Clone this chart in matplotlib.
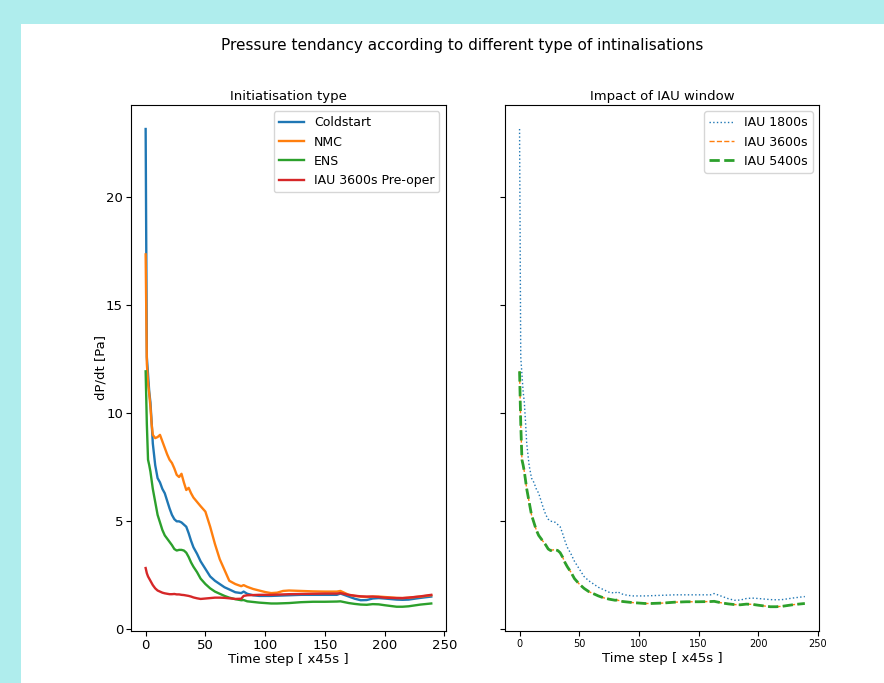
import matplotlib
matplotlib.use("Agg")
import matplotlib.pyplot as plt
from matplotlib.patches import Rectangle

# time steps (x45s) at which the curves were read
time_steps = [0, 1, 2, 3, 4, 5, 6, 8, 10, 12, 14, 16, 18, 20, 22, 24, 26, 28, 30, 32,
              34, 36, 38, 40, 43, 46, 50, 54, 58, 62, 66, 70, 75, 80, 82, 85, 90, 95,
              100, 105, 110, 115, 120, 130, 140, 150, 160, 163, 170, 175, 180, 185,
              190, 195, 200, 210, 215, 220, 230, 239]

coldstart = [23.15, 12.6, 11.8, 11.0, 10.5, 9.6, 8.6, 7.6, 7.0, 6.8, 6.5, 6.3, 5.95, 5.6,
             5.3, 5.1, 5.0, 5.0, 4.95, 4.85, 4.75, 4.45, 4.1, 3.8, 3.5, 3.15, 2.8, 2.45,
             2.25, 2.1, 1.95, 1.85, 1.72, 1.68, 1.75, 1.65, 1.58, 1.55, 1.55, 1.55, 1.56,
             1.57, 1.58, 1.6, 1.6, 1.6, 1.6, 1.66, 1.52, 1.42, 1.35, 1.36, 1.43, 1.45,
             1.43, 1.38, 1.37, 1.38, 1.46, 1.52]

nmc = [17.35, 12.3, 11.4, 10.9, 10.3, 9.5, 9.0, 8.85, 8.9, 9.0, 8.7, 8.4, 8.1, 7.85,
       7.7, 7.45, 7.15, 7.05, 7.2, 6.8, 6.45, 6.55, 6.3, 6.1, 5.9, 5.7, 5.45, 4.75,
       3.95, 3.25, 2.75, 2.25, 2.1, 2.0, 2.05, 1.97, 1.87, 1.8, 1.73, 1.68, 1.7, 1.78,
       1.8, 1.78, 1.76, 1.75, 1.75, 1.78, 1.6, 1.55, 1.52, 1.5, 1.52, 1.52, 1.5, 1.46,
       1.45, 1.47, 1.52, 1.58]

ens = [11.94, 9.5, 7.85, 7.6, 7.3, 6.9, 6.5, 5.9, 5.3, 4.95, 4.6, 4.35, 4.2, 4.05,
       3.9, 3.72, 3.65, 3.68, 3.68, 3.65, 3.55, 3.35, 3.1, 2.9, 2.65, 2.35, 2.1, 1.9,
       1.75, 1.65, 1.55, 1.47, 1.4, 1.35, 1.36, 1.3, 1.27, 1.24, 1.22, 1.2, 1.2, 1.21,
       1.22, 1.26, 1.28, 1.28, 1.29, 1.3, 1.22, 1.18, 1.15, 1.14, 1.17, 1.16, 1.12,
       1.05, 1.05, 1.07, 1.15, 1.2]

iau_preoper = [2.84, 2.6, 2.45, 2.35, 2.25, 2.15, 2.05, 1.9, 1.8, 1.75, 1.7, 1.67, 1.65,
               1.63, 1.63, 1.64, 1.62, 1.62, 1.6, 1.59, 1.57, 1.55, 1.52, 1.48, 1.44,
               1.41, 1.43, 1.45, 1.47, 1.47, 1.46, 1.44, 1.41, 1.42, 1.55, 1.58, 1.59,
               1.6, 1.6, 1.6, 1.61, 1.62, 1.63, 1.64, 1.65, 1.66, 1.66, 1.68, 1.6, 1.56,
               1.53, 1.52, 1.52, 1.5, 1.47, 1.45, 1.45, 1.47, 1.53, 1.6]

# IAU window runs
iau_1800 = coldstart
iau_3600 = ens
iau_5400 = ens

fig = plt.figure(figsize=(8.84, 6.83), dpi=100, facecolor='#afeded')
fig.patches.append(Rectangle((21 / 884, 0), 1, 1 - 24 / 683, transform=fig.transFigure,
                             facecolor='white', edgecolor='none', zorder=-1))

ax1 = fig.add_axes([0.1486, 0.0767, 0.3554, 0.7694])
ax2 = fig.add_axes([0.5716, 0.0767, 0.355, 0.7694], sharey=ax1)

ax1.plot(time_steps, coldstart, lw=1.7, label='Coldstart')
ax1.plot(time_steps, nmc, lw=1.7, label='NMC')
ax1.plot(time_steps, ens, lw=1.7, label='ENS')
ax1.plot(time_steps, iau_preoper, lw=1.7, label='IAU 3600s Pre-oper')
ax1.set_title('Initiatisation type', fontsize=9.5, pad=4)
ax1.set_xlabel('Time step [ x45s ]', fontsize=9.5, labelpad=1)
ax1.set_ylabel('dP/dt [Pa]', fontsize=9.5, labelpad=-1)
ax1.tick_params(labelsize=9.5, pad=2.5)
ax1.legend(loc='upper right', fontsize=9)

ax2.plot(time_steps, iau_1800, ':', color='C0', lw=1, label='IAU 1800s')
ax2.plot(time_steps, iau_3600, '--', color='C1', lw=1, label='IAU 3600s')
ax2.plot(time_steps, iau_5400, '--', color='C2', lw=2, label='IAU 5400s')
ax2.set_title('Impact of IAU window', fontsize=9.5, pad=4)
ax2.set_xlabel('Time step [ x45s ]', fontsize=9.5, labelpad=2)
ax2.tick_params(axis='x', labelsize=7, pad=2.5)
plt.setp(ax2.get_yticklabels(), visible=False)
ax2.legend(loc='upper right', fontsize=9)

fig.text(0.523, 0.934, 'Pressure tendancy according to different type of intinalisations',
         ha='center', va='center', fontsize=11)

fig.savefig('out.png', dpi=100, facecolor=fig.get_facecolor())
